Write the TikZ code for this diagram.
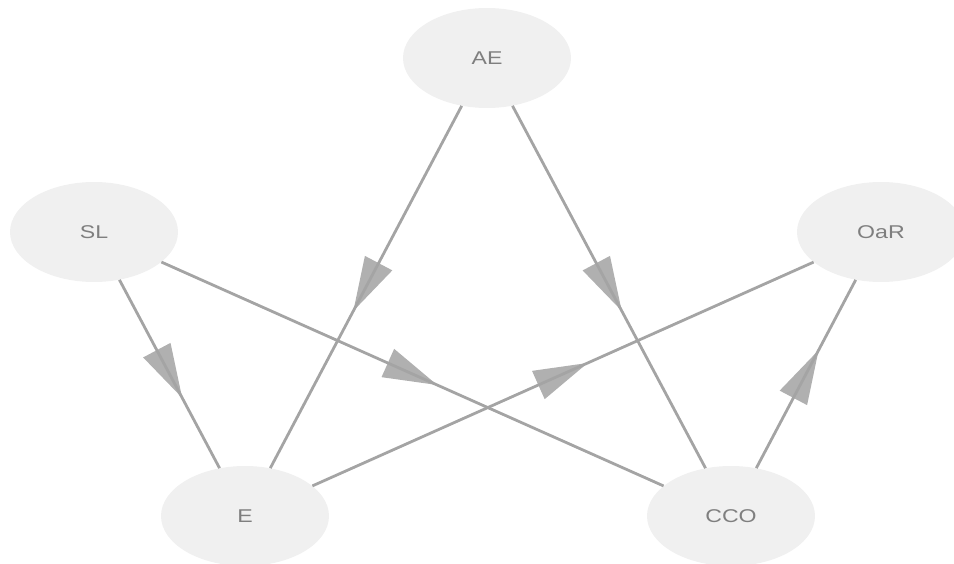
\documentclass[tikz,border=0pt]{standalone}
\usepackage{fontspec}
\setmainfont{Liberation Sans}
\usetikzlibrary{shapes.geometric,calc}
\definecolor{nodefill}{HTML}{F0F0F0}
\definecolor{edgecol}{HTML}{A4A4A4}
\definecolor{headcol}{HTML}{B0B0B0}
\definecolor{txtcol}{HTML}{7F7F7F}
\tikzset{
  vnode/.style={ellipse, fill=nodefill, draw=none, minimum width=168pt, minimum height=100pt, inner sep=0pt, text=txtcol, font=\fontsize{18.5}{18.5}\selectfont},
  vedge/.style={draw=edgecol, line width=2.8pt},
  vhead/.style={fill=headcol, draw=none}
}
\newcommand{\lbl}[1]{\scalebox{1.25}[1]{#1}}
\newcommand{\midhead}[2]{%
  \coordinate (mm) at ($(#1.center)!0.5!(#2.center)$);
  \coordinate (tt) at ($(mm)!27pt!(#2.center)$);
  \coordinate (bb) at ($(mm)!-27pt!(#2.center)$);
  \fill[vhead] (tt) -- ($(bb)!15.5pt!90:(tt)$) -- ($(bb)!15.5pt!-90:(tt)$) -- cycle;
  \draw[vedge] (#1) -- (#2);
}
\begin{document}
\begin{tikzpicture}[x=1pt,y=-1pt]
\useasboundingbox (0,0) rectangle (954,564);
\clip (0,0) rectangle (954,564);
\node[vnode] (AE) at (487,58) {\lbl{AE}};
\node[vnode] (SL) at (94,232) {\lbl{SL}};
\node[vnode] (OaR) at (881,232) {\lbl{OaR}};
\node[vnode] (E) at (245,516) {\lbl{E}};
\node[vnode] (CCO) at (731,516) {\lbl{CCO}};
\midhead{AE}{E}
\midhead{AE}{CCO}
\midhead{SL}{E}
\midhead{SL}{CCO}
\midhead{E}{OaR}
\midhead{CCO}{OaR}
\end{tikzpicture}
\end{document}
